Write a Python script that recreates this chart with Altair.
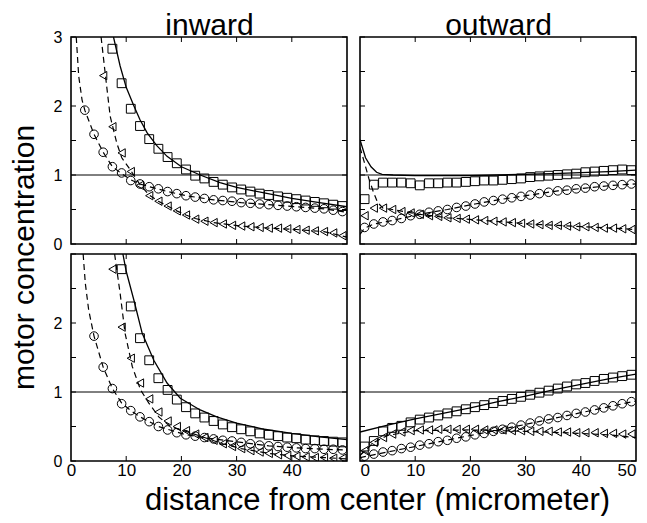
import altair as alt
import pandas as pd

FONT = "Liberation Sans"
W, H = 276, 207

# common x positions of the markers (micrometer)
XG = [0.83, 2.5, 4.17, 5.83, 7.5, 9.17, 10.83, 12.5, 14.17, 15.83, 17.5, 19.17,
      20.83, 22.5, 24.17, 25.83, 27.5, 29.17, 30.83, 32.5, 34.17, 35.83, 37.5,
      39.17, 40.83, 42.5, 44.17, 45.83, 47.5, 49.17]

# ---------------- inward, top ----------------
IT_SQ = [None, None, None, None, 2.83, 2.33, 1.96, 1.71, 1.52, 1.38, 1.26, 1.17,
         1.08, 0.99, 0.95, 0.90, 0.86, 0.82, 0.79, 0.76, 0.73, 0.71, 0.69, 0.67,
         0.65, 0.63, 0.61, 0.59, 0.57, 0.55]
IT_CI = [None, 1.94, 1.59, 1.33, 1.12, 1.03, 0.92, 0.87, 0.83, 0.80, 0.76, 0.73,
         0.70, 0.68, 0.66, 0.64, 0.63, 0.62, 0.60, 0.59, 0.58, 0.57, 0.56, 0.55,
         0.54, 0.53, 0.52, 0.51, 0.49, 0.47]
IT_TR = [None, None, None, 2.44, 1.70, 1.32, 1.05, 0.85, 0.70, 0.62, 0.55, 0.48,
         0.42, 0.36, 0.33, 0.31, 0.29, 0.27, 0.26, 0.25, 0.24, 0.23, 0.23, 0.22,
         0.21, 0.20, 0.19, 0.18, 0.16, 0.12]
IT_SOLID_X = [7.7, 8.9, 10, 11.4, 12.5, 13.8, 15.5, 17.4, 20, 23.4, 27, 30, 35, 40, 45, 50]
IT_SOLID_Y = [3.0, 2.58, 2.27, 2.0, 1.8, 1.61, 1.43, 1.27, 1.12, 1.0, 0.89, 0.82, 0.74, 0.66, 0.60, 0.54]
IT_DTR_X = [5.45, 6.4, 7.1, 8.3, 9.2, 10.7, 12.5, 14.17, 15.83, 17.5, 19.17, 20.83, 22.5,
            25.83, 30.83, 35.83, 40.83, 45.83, 50]
IT_DTR_Y = [3.0, 2.33, 1.85, 1.46, 1.25, 1.08, 0.86, 0.71, 0.62, 0.55, 0.48, 0.42, 0.37,
            0.31, 0.26, 0.23, 0.21, 0.18, 0.10]
IT_DCI_X = [0.95, 1.4, 2.0, 2.5, 4.17, 5.83, 7.5, 9.17, 10.83, 12.5, 14.17, 17.5, 20.83,
            25.83, 30.83, 35.83, 40.83, 45.83, 50]
IT_DCI_Y = [3.0, 2.43, 2.09, 1.94, 1.59, 1.33, 1.12, 1.02, 0.93, 0.87, 0.83, 0.76, 0.70,
            0.64, 0.60, 0.57, 0.54, 0.51, 0.46]

# ---------------- outward, top ----------------
OT_SQ = [0.65, 0.86, 0.89, 0.89, 0.89, 0.88, 0.85, 0.88, 0.88, 0.89, 0.89, 0.90,
         0.91, 0.92, 0.92, 0.93, 0.94, 0.95, 0.97, 0.98, 0.99, 1.00, 1.01, 1.02,
         1.04, 1.05, 1.06, 1.07, 1.08, 1.07]
OT_CI = [0.24, 0.29, 0.32, 0.34, 0.37, 0.41, 0.43, 0.46, 0.48, 0.50, 0.53, 0.55,
         0.58, 0.61, 0.63, 0.65, 0.67, 0.69, 0.71, 0.73, 0.75, 0.77, 0.78, 0.80,
         0.81, 0.83, 0.84, 0.85, 0.86, 0.87]
OT_TR = [0.41, 0.52, 0.52, 0.50, 0.47, 0.45, 0.43, 0.41, 0.40, 0.38, 0.37, 0.36,
         0.35, 0.34, 0.33, 0.32, 0.31, 0.30, 0.29, 0.28, 0.27, 0.27, 0.26, 0.25,
         0.25, 0.24, 0.23, 0.23, 0.22, 0.21]
OT_SOLID_X = [0, 1, 2, 3, 4, 6, 10, 20, 25, 35, 45, 50]
OT_SOLID_Y = [1.51, 1.25, 1.12, 1.04, 1.01, 1.0, 0.99, 0.99, 1.0, 1.02, 1.05, 1.07]
OT_DTR_X = [0, 0.8, 1.6, 2.4, 3.2, 4.17, 5.83, 10.83, 15.83, 20.83, 25.83, 30.83, 35.83,
            40.83, 45.83, 50]
OT_DTR_Y = [1.40, 1.18, 0.95, 0.76, 0.60, 0.52, 0.50, 0.43, 0.38, 0.35, 0.32, 0.29, 0.27,
            0.25, 0.23, 0.21]
OT_DCI_X = [0, 0.83, 2.5, 5.83, 10.83, 15.83, 20.83, 25.83, 30.83, 35.83, 40.83, 45.83, 50]
OT_DCI_Y = [0.14, 0.23, 0.29, 0.34, 0.43, 0.50, 0.58, 0.65, 0.71, 0.77, 0.81, 0.85, 0.87]

# ---------------- inward, bottom ----------------
IB_SQ = [None, None, None, None, None, 2.78, 2.24, 1.78, 1.46, 1.20, 1.03, 0.89,
         0.78, 0.69, 0.63, 0.58, 0.53, 0.49, 0.46, 0.43, 0.40, 0.38, 0.36, 0.34,
         0.33, 0.31, 0.30, 0.29, 0.28, 0.27]
IB_CI = [None, None, 1.81, 1.36, 1.05, 0.83, 0.73, 0.64, 0.57, 0.50, 0.45, 0.41,
         0.38, 0.36, 0.34, 0.32, 0.30, 0.29, 0.27, 0.25, 0.23, 0.22, 0.21, 0.20,
         0.19, 0.18, 0.18, 0.17, 0.17, 0.16]
IB_TR = [None, None, None, None, 2.78, 1.94, 1.49, 1.13, 0.90, 0.71, 0.58, 0.50,
         0.44, 0.39, 0.34, 0.30, 0.25, 0.21, 0.18, 0.15, 0.13, 0.11, 0.09, 0.08,
         0.07, 0.06, 0.05, 0.05, 0.04, 0.04]
IB_SOLID_X = [9.4, 10, 11.4, 12.9, 15, 17.4, 19.8, 23.4, 26.4, 30, 35, 40, 45, 50]
IB_SOLID_Y = [3.0, 2.75, 2.33, 1.85, 1.46, 1.13, 0.91, 0.74, 0.64, 0.55, 0.46, 0.40, 0.35, 0.31]
IB_DTR_X = [7.9, 8.9, 9.8, 11.1, 12.6, 14.1, 15.9, 18, 20.83, 24.17, 27.5, 30.83, 35.83,
            40.83, 45.83, 50]
IB_DTR_Y = [3.0, 2.43, 1.85, 1.37, 1.03, 0.84, 0.64, 0.50, 0.43, 0.34, 0.25, 0.18, 0.11,
            0.07, 0.05, 0.03]
IB_DCI_X = [2.2, 2.6, 3.2, 4.17, 5.83, 7.5, 9.17, 10.83, 12.5, 15.83, 20.83, 25.83, 30.83,
            35.83, 40.83, 45.83, 50]
IB_DCI_Y = [3.0, 2.57, 2.19, 1.81, 1.36, 1.05, 0.84, 0.73, 0.64, 0.50, 0.38, 0.32, 0.27,
            0.22, 0.19, 0.17, 0.16]

# ---------------- outward, bottom ----------------
OB_SQ = [0.21, 0.29, 0.43, 0.48, 0.51, 0.56, 0.60, 0.63, 0.66, 0.69, 0.72, 0.75,
         0.78, 0.81, 0.84, 0.87, 0.90, 0.93, 0.96, 0.99, 1.02, 1.05, 1.08, 1.11,
         1.13, 1.16, 1.19, 1.21, 1.23, 1.25]
OB_CI = [0.07, 0.10, 0.13, 0.15, 0.18, 0.20, 0.23, 0.25, 0.28, 0.30, 0.33, 0.35,
         0.38, 0.40, 0.43, 0.46, 0.49, 0.52, 0.55, 0.58, 0.61, 0.63, 0.66, 0.69,
         0.71, 0.74, 0.77, 0.80, 0.83, 0.86]
OB_TR = [0.15, 0.27, 0.34, 0.39, 0.42, 0.44, 0.45, 0.45, 0.46, 0.46, 0.46, 0.46,
         0.46, 0.45, 0.45, 0.45, 0.44, 0.44, 0.43, 0.43, 0.43, 0.42, 0.42, 0.41,
         0.41, 0.41, 0.40, 0.40, 0.39, 0.39]
OB_SOLID_X = [0, 5, 10, 15, 20, 25, 30, 35, 40, 45, 50]
OB_SOLID_Y = [0.42, 0.52, 0.61, 0.69, 0.77, 0.86, 0.94, 1.03, 1.11, 1.19, 1.26]
OB_DTR_X = [0, 2.5, 5, 10, 20, 30, 40, 45, 50]
OB_DTR_Y = [0.08, 0.27, 0.37, 0.44, 0.45, 0.43, 0.40, 0.38, 0.34]
OB_DCI_X = [0, 10, 20, 30, 40, 50]
OB_DCI_Y = [0.05, 0.21, 0.37, 0.53, 0.70, 0.87]

Y_TICKS = [0, 0.5, 1, 1.5, 2, 2.5, 3]
X_TICKS = [10, 20, 30, 40]
SHAPES = ["square", "circle", "triangle-left"]
SIZES = [78, 70, 100]


def marker_df(sq, ci, tr):
    rows = []
    for name, vals in zip(SHAPES, (sq, ci, tr)):
        for x, v in zip(XG, vals):
            if v is not None:
                rows.append({"x": x, "c": v, "s": name})
    return pd.DataFrame(rows)


def lines_df(*pairs):
    rows = []
    for i, (xs, ys) in enumerate(pairs):
        for x, v in zip(xs, ys):
            rows.append({"x": x, "c": v, "g": i})
    return pd.DataFrame(rows)


def panel(m, solid, dashes, xaxis=None, yaxis=None):
    xs = alt.Scale(domain=[0, 50], nice=False, zero=False)
    ys = alt.Scale(domain=[0, 3], nice=False, zero=False)
    X = alt.X("x:Q", scale=xs, axis=xaxis)
    Y = alt.Y("c:Q", scale=ys, axis=yaxis)

    ref = alt.Chart(pd.DataFrame({"c": [1.0]})).mark_rule(
        color="black", strokeWidth=1).encode(y=Y)
    sl = alt.Chart(lines_df(solid)).mark_line(
        color="black", strokeWidth=1.3, clip=True).encode(x=X, y=Y, detail="g:N")
    dl = alt.Chart(lines_df(*dashes)).mark_line(
        color="black", strokeWidth=1.2, strokeDash=[6, 4], clip=True
    ).encode(x=X, y=Y, detail="g:N")
    pts = alt.Chart(marker_df(*m)).mark_point(
        filled=False, color="black", strokeWidth=1, opacity=1, clip=True
    ).encode(
        x=X, y=Y,
        shape=alt.Shape("s:N", scale=alt.Scale(domain=SHAPES, range=SHAPES), legend=None),
        size=alt.Size("s:N", scale=alt.Scale(domain=SHAPES, range=SIZES), legend=None),
    )
    ydf = pd.DataFrame({"c": Y_TICKS})
    xdf = pd.DataFrame({"x": X_TICKS})
    tl = alt.Chart(ydf).mark_rule(color="black", strokeWidth=1).encode(
        y=Y, x=alt.value(0), x2=alt.value(5))
    tr = alt.Chart(ydf).mark_rule(color="black", strokeWidth=1).encode(
        y=Y, x=alt.value(W - 5), x2=alt.value(W))
    tb = alt.Chart(xdf).mark_rule(color="black", strokeWidth=1).encode(
        x=X, y=alt.value(H - 5), y2=alt.value(H))
    tt = alt.Chart(xdf).mark_rule(color="black", strokeWidth=1).encode(
        x=X, y=alt.value(0), y2=alt.value(5))
    return alt.layer(ref, sl, dl, pts, tl, tr, tb, tt).properties(width=W, height=H)


BASE_AX = dict(ticks=False, domain=False, grid=False, labelOverlap=False, format="d")


def yax(values, **kw):
    d = dict(BASE_AX, values=values, labelFontSize=16, labelPadding=9,
             labelFlush=False, title=None)
    d.update(kw)
    return alt.Axis(**d)


def xax(values, **kw):
    d = dict(BASE_AX, values=values, labelFontSize=17, labelPadding=1,
             labelFlush=False, title=None)
    d.update(kw)
    return alt.Axis(**d)


def top_title_axis(text):
    return alt.Axis(orient="top", labels=False, ticks=False, domain=False, grid=False,
                    title=text, titleFontSize=30, titleFontWeight="normal",
                    titleX=W / 2, titleY=-3, titleAlign="center",
                    titleBaseline="alphabetic")


tl_chart = panel(
    (IT_SQ, IT_CI, IT_TR),
    (IT_SOLID_X, IT_SOLID_Y),
    [(IT_DTR_X, IT_DTR_Y), (IT_DCI_X, IT_DCI_Y)],
    xaxis=top_title_axis("inward"),
    yaxis=yax([0, 1, 2, 3], title="motor concentration", titleFontSize=30,
              titleX=-38, titleY=220, titleAngle=270, titleAlign="center",
              titleBaseline="alphabetic", titleFontWeight="normal"),
)
tr_chart = panel(
    (OT_SQ, OT_CI, OT_TR),
    (OT_SOLID_X, OT_SOLID_Y),
    [(OT_DTR_X, OT_DTR_Y), (OT_DCI_X, OT_DCI_Y)],
    xaxis=top_title_axis("outward"),
    yaxis=None,
)
bl_chart = panel(
    (IB_SQ, IB_CI, IB_TR),
    (IB_SOLID_X, IB_SOLID_Y),
    [(IB_DTR_X, IB_DTR_Y), (IB_DCI_X, IB_DCI_Y)],
    xaxis=xax([0, 10, 20, 30, 40], title="distance from center (micrometer)",
              titleFontSize=31, titleX=306, titleY=48, titleAlign="center",
              titleBaseline="alphabetic", titleFontWeight="normal"),
    yaxis=yax([0, 1, 2]),
)
br_chart = panel(
    (OB_SQ, OB_CI, OB_TR),
    (OB_SOLID_X, OB_SOLID_Y),
    [(OB_DTR_X, OB_DTR_Y), (OB_DCI_X, OB_DCI_Y)],
    xaxis=xax([0, 10, 20, 30, 40, 50], labelFlush=True),
    yaxis=None,
)

chart = alt.concat(
    tl_chart, tr_chart, bl_chart, br_chart,
    columns=2, spacing={"row": 10, "column": 13}, bounds="flush",
).properties(
    padding={"left": 0, "top": 1, "right": 0, "bottom": 0}
).configure_view(
    stroke="black", strokeWidth=1.6
).configure_axis(
    labelFont=FONT, titleFont=FONT, labelColor="black", titleColor="black"
)

chart.save("out.html", embed_options={"renderer": "svg", "actions": False})
